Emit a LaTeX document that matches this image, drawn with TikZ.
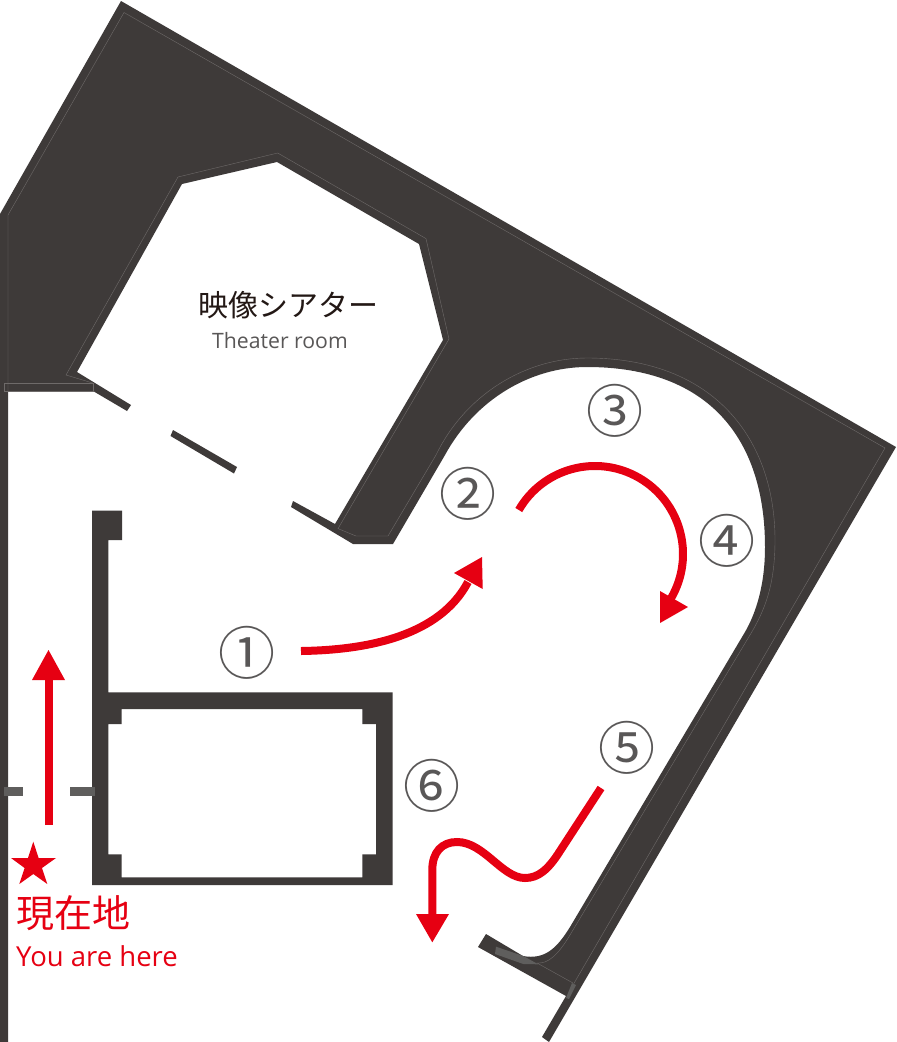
\documentclass[tikz,border=0pt]{standalone}
\usepackage{fontspec}
\newfontfamily\cjk{Noto Sans CJK JP}
\newfontfamily\latn{Open Sans}
\definecolor{wall}{HTML}{3E3A39}
\definecolor{wline}{HTML}{6E6A69}
\definecolor{mark}{HTML}{5F5E5D}
\definecolor{redm}{HTML}{E60012}
\definecolor{txt}{HTML}{595757}
\definecolor{ink}{HTML}{231815}
\tikzset{
 wallfill/.style={fill=wall,draw=none},
 thin line/.style={draw=wline,line width=0.4pt},
 redpath/.style={draw=redm,line width=8pt},
 redhead/.style={fill=redm,draw=none},
 greymark/.style={fill=mark,draw=none},
 numlabel/.style={inner sep=0pt,text=txt,font=\cjk\fontsize{57}{57}\selectfont},
}
\begin{document}
\begin{tikzpicture}[x=1pt,y=-1pt]
\useasboundingbox (0,0) rectangle (897,1042);
\fill[white] (0,0) rectangle (897,1042);
% main wall
\path[wallfill,even odd rule]
 (121,1) -- (896,447) -- (549,1042) -- (542,1037) -- (566,996) -- (478,947) -- (486,934) -- (523,956)
 .. controls (545,960) and (557,948) .. (570,927)
 -- (745,632) .. controls (756,613) and (765,585) .. (765,547)
 .. controls (765,440) and (710,367) .. (587,367)
 .. controls (530,367) and (475,400) .. (445,455)
 -- (393,544) -- (353,544) -- (291,507) -- (293,501) -- (335,524)
 -- (443,340) -- (419,244) -- (277,162) -- (182,184) -- (77,372) -- (131,405) -- (127,411) -- (93,391)
 -- (8,391) -- (8,1042) -- (0,1042) -- (0,214) -- cycle;
% door piece
\path[wallfill] (173,430) -- (237,467) -- (234,473.5) -- (170.5,436) -- cycle;
% thin inner lines
\draw[thin line] (124,12.5) -- (885,448) -- (573,985);
\draw[thin line] (8,391) -- (8,215) -- (124,12.5);
\draw[thin line] (4,391) -- (4,383) -- (92.7,383) -- (92.7,391) -- (4,391);
\draw[thin line] (92.7,383) -- (66,375) -- (178,177) -- (277.7,153) -- (426,238.6) -- (449,339) -- (338,528.6) -- (356,536) -- (388,536)
 -- (436,455) .. controls (465,395) and (525,358) .. (587,358)
 .. controls (715,358) and (775,440) .. (775,540)
 .. controls (775,585) and (765,610) .. (750,635)
 -- (570,935) .. controls (558,955) and (548,964) .. (537,963) -- (573,983);
% box
\path[wallfill] (92,510.5) -- (122,510.5) -- (122,540) -- (108.3,540) -- (108.3,692.3) -- (392.7,692.3) -- (392.7,885) -- (92,885) -- cycle
 (121.7,709) -- (121.7,724) -- (108.3,724) -- (108.3,854.3) -- (121.7,854.3) -- (121.7,877.3) -- (362.3,877.3) -- (362.3,854.3) -- (376,854.3) -- (376,724) -- (362.3,724) -- (362.3,709) -- cycle;
% translucent marks
\path[greymark] (4,787.3) rectangle (23,795.7);
\path[greymark] (70.3,787.3) rectangle (95,795.7);
\path[greymark] (496,946.7) -- (523.3,956) -- (538.3,964.3) -- (523.3,964) -- (495,954) -- cycle;
\path[greymark] (572,983) -- (576,985) -- (569,999) -- (566,998) -- cycle;
% red arrows
\draw[redpath] (48.5,825) -- (48.5,678);
\path[redhead] (32,680) -- (48.5,650) -- (65,680) -- cycle;
\draw[redpath] (301,651) .. controls (370,650) and (440,635) .. (468,582);
\path[redhead] (482,557) -- (454,573) -- (482.7,589) -- cycle;
\draw[redpath] (518.8,510) .. controls (543.1,467.9) and (596.9,453.5) .. (639,477.8)
 .. controls (681.1,502.1) and (695.5,555.9) .. (671.2,598);
\path[redhead] (660,591) -- (688,607) -- (660,623) -- cycle;
\draw[redpath] (601,788) -- (560,851) .. controls (548,870) and (538,878) .. (525,878)
 .. controls (502,878) and (484,842) .. (457,842)
 .. controls (442,842) and (432.3,852) .. (432.3,870) -- (432.3,915);
\path[redhead] (416,914) -- (449,914) -- (432.3,942.3) -- cycle;
% star
\path[redhead] (33.3,841.7) -- (38.6,858) -- (56,858) -- (42,868) -- (47.3,884) -- (33.3,874) -- (19.3,884) -- (24.6,868) -- (11,858) -- (28,858) -- cycle;
% labels
\node[inner sep=0pt,text=ink,font=\cjk\fontsize{30}{30}\selectfont] (room) at (288,305) {映像シアター};
\node[inner sep=0pt,text=txt,font=\latn\fontsize{21.2}{21.2}\selectfont] (roomen) at (280,341) {Theater room};
\node[inner sep=0pt,anchor=west,text=redm,font=\cjk\fontsize{38}{38}\selectfont] (here) at (16,913) {現在地};
\node[inner sep=0pt,anchor=west,text=redm,font=\latn\fontsize{27.5}{27.5}\selectfont] (hereen) at (16,956) {You are here};
\node[numlabel] (n1) at (247,653) {①};
\node[numlabel] (n2) at (467.7,494) {②};
\node[numlabel] (n3) at (614.7,410.7) {③};
\node[numlabel] (n4) at (726.7,540.7) {④};
\node[numlabel] (n5) at (626.7,748) {⑤};
\node[numlabel] (n6) at (432.3,785.7) {⑥};
\end{tikzpicture}
\end{document}
